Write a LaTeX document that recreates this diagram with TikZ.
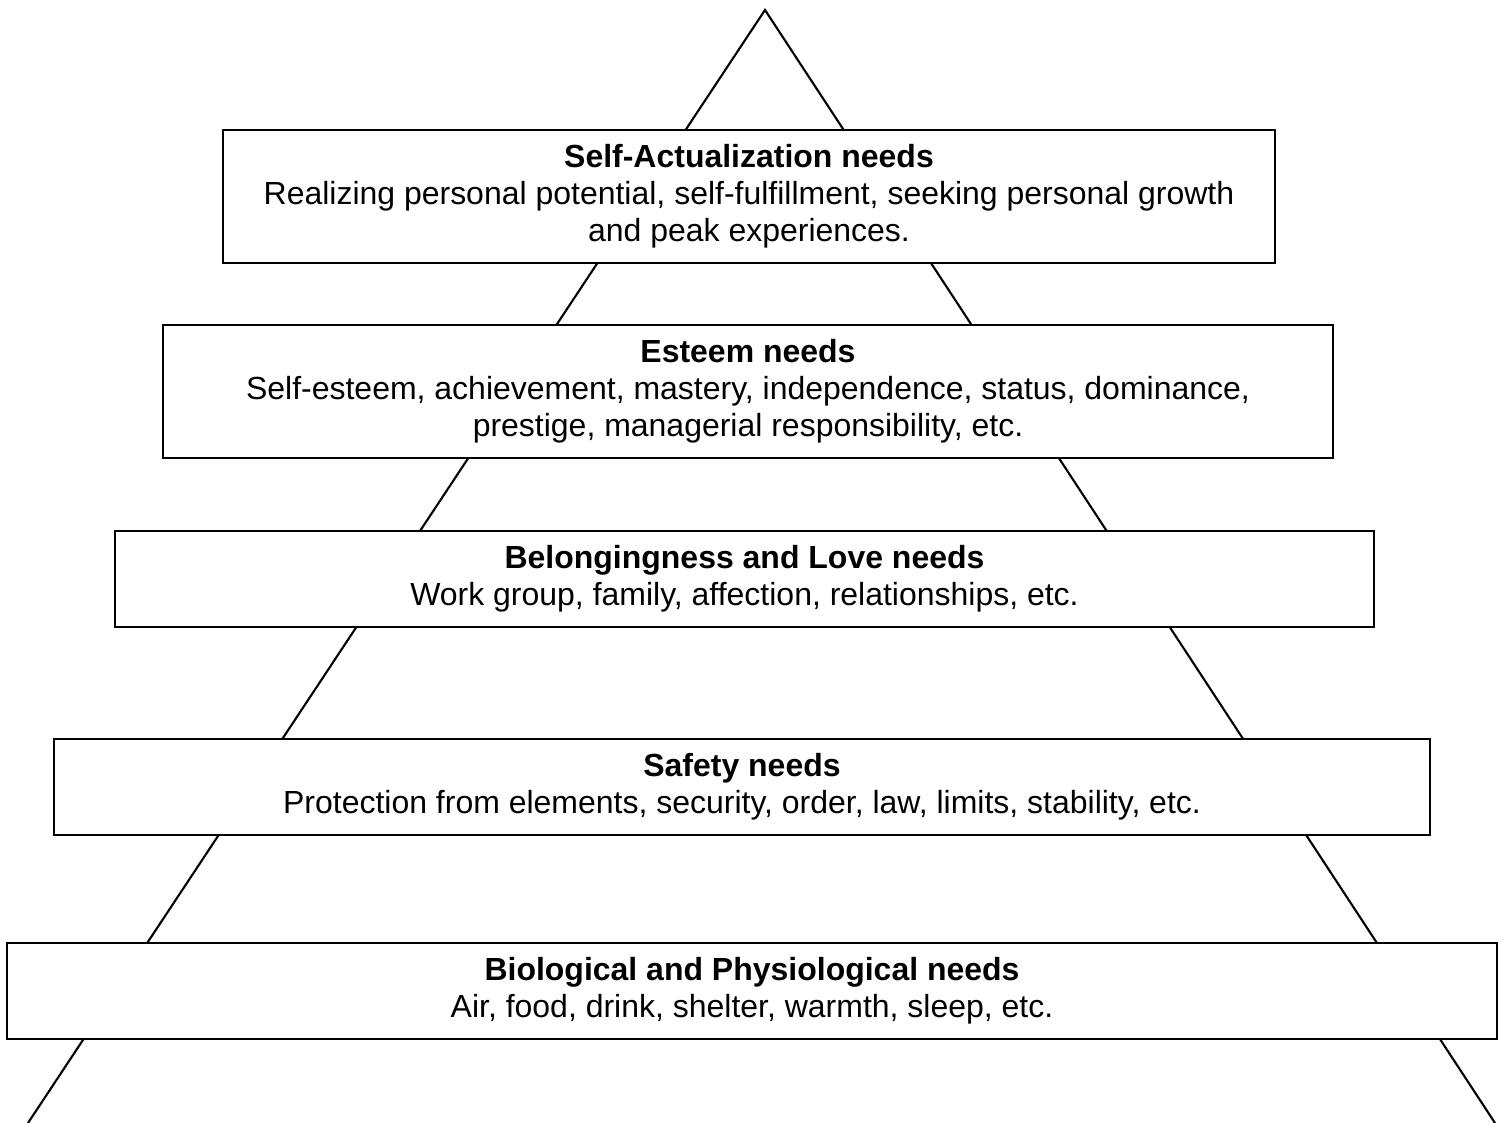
\documentclass[tikz,border=0pt]{standalone}
\usepackage{fontspec}
\setmainfont{Liberation Sans}
\begin{document}
\begin{tikzpicture}[line width=0.6pt]
    \tikzstyle{level}=[draw, fill=white, align=center, inner sep=0pt, font=\fontsize{9.1}{10.5}\selectfont]
    \useasboundingbox (0,0) rectangle (15.03,11.23);
    \coordinate (apex) at (7.65,11.13);
    \coordinate (baseleft) at (0.28,0);
    \coordinate (baseright) at (14.95,0);
    \draw (baseleft) -- (apex) -- (baseright);
    \node (self) [level, minimum width=10.52cm, minimum height=1.33cm] at (7.49,9.265)
        {\textbf{Self-Actualization needs}\\Realizing personal potential, self-fulfillment, seeking personal growth\\and peak experiences.};
    \node (esteem) [level, minimum width=11.70cm, minimum height=1.33cm] at (7.48,7.315)
        {\textbf{Esteem needs}\\Self-esteem, achievement, mastery, independence, status, dominance,\\prestige, managerial responsibility, etc.};
    \node (love) [level, minimum width=12.59cm, minimum height=0.96cm] at (7.445,5.44)
        {\textbf{Belongingness and Love needs}\\Work group, family, affection, relationships, etc.};
    \node (safety) [level, minimum width=13.76cm, minimum height=0.96cm] at (7.42,3.36)
        {\textbf{Safety needs}\\Protection from elements, security, order, law, limits, stability, etc.};
    \node (bio) [level, minimum width=14.90cm, minimum height=0.96cm] at (7.52,1.32)
        {\textbf{Biological and Physiological needs}\\Air, food, drink, shelter, warmth, sleep, etc.};
\end{tikzpicture}
\end{document}
